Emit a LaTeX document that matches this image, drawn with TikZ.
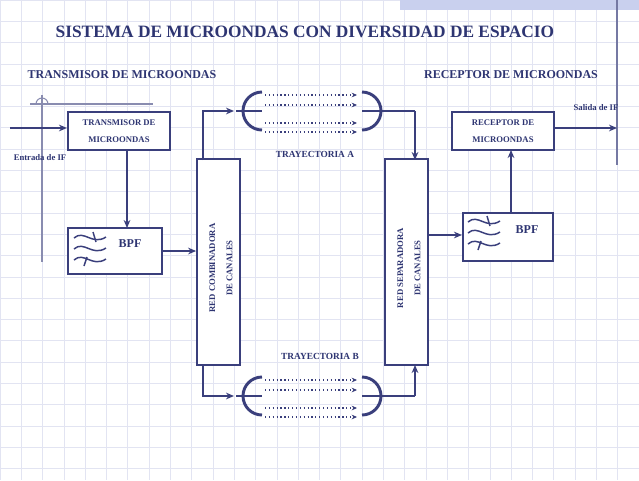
\documentclass[tikz,border=0pt]{standalone}
\usepackage{fontspec}
\setmainfont{Liberation Serif}
\usetikzlibrary{arrows.meta}
\definecolor{navy}{HTML}{3A3F7C}
\definecolor{txt}{HTML}{2E3572}
\definecolor{gridc}{HTML}{E2E4F2}
\definecolor{band}{HTML}{C9D0EE}
\begin{document}
\begin{tikzpicture}[x=0.75pt,y=-0.75pt,
  blk/.style={draw=navy,line width=1.6pt,fill=white},
  wire/.style={draw=navy,line width=1.4pt},
  arr/.style={wire,-{Stealth[length=6pt,width=5pt]}},
  ray/.style={draw=navy,line width=0.9pt,dotted,-{Stealth[length=4pt,width=3.5pt]}},
  lbl/.style={text=txt,font=\bfseries},
  ant/.style={draw=navy,line width=2.2pt}]
\useasboundingbox (0,0) rectangle (639,480);
\fill[white] (0,0) rectangle (639,480);
\foreach \i in {0,...,30}{\draw[gridc,line width=0.5pt] (\i*21.3,0) -- (\i*21.3,480);}
\foreach \i in {0,...,23}{\draw[gridc,line width=0.5pt] (0,\i*21.3) -- (639,\i*21.3);}
\fill[band] (400,0) rectangle (639,10);
\draw[navy!70,line width=0.8pt] (617,0) -- (617,165);
\draw[navy!60,line width=0.8pt] (30,104) -- (153,104) (42,95) -- (42,262);
\draw[navy!60,line width=0.8pt] (36,104) arc[start angle=180,end angle=360,radius=6];
\node[lbl,font=\bfseries\fontsize{13}{15}\selectfont] (title) at (305,32) {SISTEMA DE MICROONDAS CON DIVERSIDAD DE ESPACIO};
\node[lbl,font=\bfseries\fontsize{9}{11}\selectfont] (tx) at (122,75) {TRANSMISOR DE MICROONDAS};
\node[lbl,font=\bfseries\fontsize{9}{11}\selectfont] (rx) at (511,75) {RECEPTOR DE MICROONDAS};
% boxes
\node[blk,minimum width=76.5pt,minimum height=28.5pt,align=center,text=txt,font=\bfseries\fontsize{6.5}{13}\selectfont] (tbox) at (119,131) {TRANSMISOR DE\\MICROONDAS};
\node[blk,minimum width=76.5pt,minimum height=28.5pt,align=center,text=txt,font=\bfseries\fontsize{6.5}{13}\selectfont] (rbox) at (503,131) {RECEPTOR DE\\MICROONDAS};
\node[blk,minimum width=70.5pt,minimum height=34.5pt] (bpf1) at (115,251) {};
\node[blk,minimum width=67.5pt,minimum height=36pt] (bpf2) at (508,237) {};
\node[lbl,font=\bfseries\fontsize{9}{11}\selectfont] (b1t) at (130,244) {BPF};
\node[lbl,font=\bfseries\fontsize{9}{11}\selectfont] (b2t) at (527,230) {BPF};
\node[blk,minimum width=32pt,minimum height=154pt] (comb) at (218.5,262) {};
\node[blk,minimum width=32pt,minimum height=154pt] (sep) at (406.5,262) {};
\node[lbl,rotate=90,align=center,font=\bfseries\fontsize{6.5}{13}\selectfont] (ct) at (221,268) {RED COMBINADORA\\DE CANALES};
\node[lbl,rotate=90,align=center,font=\bfseries\fontsize{6.5}{13}\selectfont] (st) at (409,268) {RED SEPARADORA\\DE CANALES};
% filter icons
\foreach \bx/\by in {74/238,468/222}{
  \foreach \k in {0,1,2}{
    \draw[navy,line width=1.1pt] (\bx,\by+\k*11) .. controls (\bx+10,\by+\k*11-9) and (\bx+18,\by+\k*11+8) .. (\bx+32,\by+\k*11-1);
  }
  \draw[navy,line width=1.1pt] (\bx+19,\by-6) -- (\bx+22,\by+4);
  \draw[navy,line width=1.1pt] (\bx+13,\by+19) -- (\bx+10,\by+28);
}
% labels
\node[lbl,font=\bfseries\fontsize{6.5}{8}\selectfont] (ein) at (40,158) {Entrada de IF};
\node[lbl,font=\bfseries\fontsize{6.5}{8}\selectfont] (sout) at (596,108) {Salida de IF};
\node[lbl,font=\bfseries\fontsize{7}{9}\selectfont] (ta) at (315,154) {TRAYECTORIA A};
\node[lbl,font=\bfseries\fontsize{7}{9}\selectfont] (tb) at (320,356) {TRAYECTORIA B};
% IO
\coordinate (in0) at (10,128);
\coordinate (out0) at (617,128);
\draw[arr] (in0) -- (in0 -| tbox.west);
\draw[arr] (rbox.east |- out0) -- (out0);
\draw[arr] (tbox.south -| 127,0) -- (127,228);
\draw[arr] (bpf1.east) -- (bpf1.east -| comb.west);
\draw[arr] (sep.east |- 0,235) -- (bpf2.west |- 0,235);
\draw[arr] (511,213) -- (511,150);
% antennas
\foreach \y/\n in {111/A,396/B}{
  \coordinate (la\n) at (262,\y);
  \coordinate (ra\n) at (362,\y);
  \draw[ant] (262,\y-19) arc[start angle=270,end angle=90,radius=19];
  \draw[ant] (362,\y-19) arc[start angle=270,end angle=450,radius=19];
  \draw[ant] (236,\y) -- (la\n);
  \draw[ant] (ra\n) -- (400,\y);
  \foreach \d in {-16,-6,12,21}{
    \draw[ray] (265,\y+\d) -- (357,\y+\d);
  }
}
\draw[arr] (203,160) -- (203,111) -- (234,111);
\draw[wire] (400,111) -- (415,111);
\draw[arr] (415,111) -- (415,160);
\draw[arr] (203,365) -- (203,396) -- (234,396);
\draw[wire] (400,396) -- (415,396);
\draw[arr] (415,396) -- (415,365);
\end{tikzpicture}
\end{document}
